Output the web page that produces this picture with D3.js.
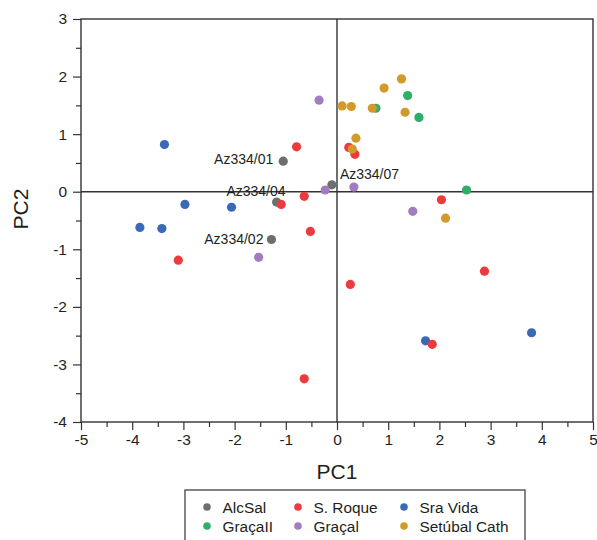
<!DOCTYPE html>
<html>
<head>
<meta charset="utf-8">
<script src="https://cdn.jsdelivr.net/npm/d3@7"></script>
<style>
  body { margin: 0; background: #fff; }
  text { font-family: Arial, "Liberation Sans", sans-serif; fill: #231f20; }
</style>
</head>
<body>
<script>
// groups, in drawing order
var groups = ["AlcSal", "Sra Vida", "S. Roque", "GraçaII", "Graçal", "Setúbal Cath"];
var legendOrder = ["AlcSal", "S. Roque", "Sra Vida", "GraçaII", "Graçal", "Setúbal Cath"];
var groupColors = ["#6d6e70", "#3a6ab5", "#ec3a3d", "#2fae6a", "#a27cc0", "#d19a2a"];

var alcSal = [[-1.05, 0.53], [-0.10, 0.12], [-1.18, -0.18], [-1.28, -0.83]];
var sraVida = [[-3.37, 0.82], [-2.97, -0.22], [-2.06, -0.27], [-3.85, -0.62], [-3.42, -0.64], [1.73, -2.59], [3.80, -2.45]];
var sRoque = [[-0.79, 0.78], [0.23, 0.77], [0.35, 0.65], [-0.64, -0.08], [-1.09, -0.22], [-0.52, -0.69],
              [-3.10, -1.19], [2.04, -0.14], [2.88, -1.38], [1.86, -2.65], [0.26, -1.61], [-0.64, -3.25]];
var gracaII = [[0.76, 1.45], [1.38, 1.67], [1.60, 1.29], [2.53, 0.03]];
var gracaI = [[-0.35, 1.59], [-0.23, 0.03], [0.33, 0.08], [-1.53, -1.14], [1.48, -0.34]];
var setubal = [[0.10, 1.49], [0.28, 1.48], [0.69, 1.45], [0.92, 1.80], [1.26, 1.96], [1.33, 1.38],
               [0.37, 0.93], [0.30, 0.74], [2.12, -0.46]];
var seriesData = [alcSal, sraVida, sRoque, gracaII, gracaI, setubal];

// sample labels, one per AlcSal point (same order)
var sampleLabels = ["Az334/01", "Az334/07", "Az334/04", "Az334/02"];

var xTicks = [-5, -4, -3, -2, -1, 0, 1, 2, 3, 4, 5];
var yTicks = [-4, -3, -2, -1, 0, 1, 2, 3];

var W = 597, H = 540;
var mLeft = 81, mRight = 593, mTop = 19, mBottom = 422;

var svg = d3.select("body").append("svg")
  .attr("width", W).attr("height", H);

var x = d3.scaleLinear().domain([-5, 5]).range([mLeft, mRight]);
var y = d3.scaleLinear().domain([-4, 3]).range([mBottom, mTop]);

var fmt = function(d){ return String(d); };

var styleAxis = function(g){
  g.select(".domain").remove();
  g.selectAll("line").attr("stroke", "#333").attr("stroke-width", 1.2);
  g.selectAll("text").style("font-size", "15.5px").attr("fill", "#231f20");
};

// minor ticks at the halves
var xMinor = d3.range(-4.5, 5, 1);
var yMinor = d3.range(-3.5, 3, 1);

svg.append("g").attr("transform", "translate(0," + mBottom + ")")
  .call(d3.axisBottom(x).tickValues(xMinor).tickSize(5).tickFormat(""))
  .call(styleAxis);
svg.append("g").attr("transform", "translate(0," + mBottom + ")")
  .call(d3.axisBottom(x).tickValues(xTicks).tickSize(8).tickPadding(4).tickFormat(fmt))
  .call(styleAxis);

svg.append("g").attr("transform", "translate(" + mLeft + ",0)")
  .call(d3.axisLeft(y).tickValues(yMinor).tickSize(5).tickFormat(""))
  .call(styleAxis);
svg.append("g").attr("transform", "translate(" + mLeft + ",0)")
  .call(d3.axisLeft(y).tickValues(yTicks).tickSize(8).tickPadding(6).tickFormat(fmt))
  .call(styleAxis);

// frame
svg.append("rect")
  .attr("x", mLeft).attr("y", mTop)
  .attr("width", mRight - mLeft).attr("height", mBottom - mTop)
  .attr("fill", "none").attr("stroke", "#333").attr("stroke-width", 1.4);

// zero lines
svg.append("line").attr("x1", x(0)).attr("x2", x(0)).attr("y1", mTop).attr("y2", mBottom)
  .attr("stroke", "#333").attr("stroke-width", 1.4);
svg.append("line").attr("x1", mLeft).attr("x2", mRight).attr("y1", y(0)).attr("y2", y(0))
  .attr("stroke", "#333").attr("stroke-width", 1.4);

// points
seriesData.forEach(function(pts, i){
  svg.append("g").selectAll("circle")
    .data(pts).enter().append("circle")
    .attr("cx", function(d){ return x(d[0]); })
    .attr("cy", function(d){ return y(d[1]); })
    .attr("r", 4.6)
    .attr("fill", groupColors[i]);
});

// labels next to AlcSal points
var labelOffsets = [[-10, 3], [8, -6], [9, -6], [-8, 5]];
var labelAnchor = ["end", "start", "end", "end"];
sampleLabels.forEach(function(t, i){
  svg.append("text")
    .attr("x", x(alcSal[i][0]) + labelOffsets[i][0])
    .attr("y", y(alcSal[i][1]) + labelOffsets[i][1])
    .attr("text-anchor", labelAnchor[i])
    .style("font-size", "14px")
    .text(t);
});

// axis titles
svg.append("text").attr("x", x(0)).attr("y", 479)
  .attr("text-anchor", "middle").style("font-size", "21px").text("PC1");
svg.append("text").attr("transform", "translate(28,209) rotate(-90)")
  .attr("text-anchor", "middle").style("font-size", "21px").text("PC2");

// legend
var lg = svg.append("g");
lg.append("rect").attr("x", 185).attr("y", 490).attr("width", 340).attr("height", 60)
  .attr("fill", "#fff").attr("stroke", "#333").attr("stroke-width", 1.2);
var colX = [207, 298, 404];
var rowY = [507, 526];
legendOrder.forEach(function(name, k){
  var cx = colX[k % 3], cy = rowY[Math.floor(k / 3)];
  lg.append("circle").attr("cx", cx).attr("cy", cy).attr("r", 3.8)
    .attr("fill", groupColors[groups.indexOf(name)]);
  lg.append("text").attr("x", cx + 15.5).attr("y", cy + 5.6)
    .style("font-size", "15.4px").text(name);
});
</script>
</body>
</html>
